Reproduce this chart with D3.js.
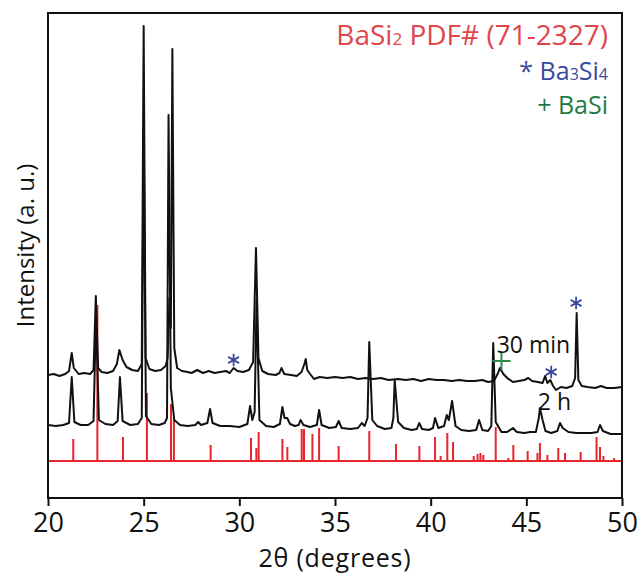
<!DOCTYPE html>
<html>
<head>
<meta charset="utf-8">
<script src="https://cdn.jsdelivr.net/npm/d3@7"></script>
<style>
body { margin: 0; background: #fff; }
text { font-family: "Open Sans", "Noto Sans", sans-serif; }
</style>
</head>
<body>
<div id="chart"></div>
<script>
var svgWidth = 639;
var svgHeight = 578;

var margin = { top: 13, right: 17, bottom: 80, left: 48 };

var chartWidth = svgWidth - margin.left - margin.right;
var chartHeight = svgHeight - margin.top - margin.bottom;

// x ticks (2 theta, degrees)
var xTicks = [20, 25, 30, 35, 40, 45, 50];

// BaSi2 reference sticks: [2theta, height above reference base]
var refBase = 37;
var refSticks = [
    [21.32, 22], [22.58, 156], [23.92, 24], [25.17, 68], [26.43, 57], [26.58, 42],
    [28.50, 16], [29.34, 1], [30.61, 23], [30.89, 13], [31.01, 29],
    [32.25, 22], [32.51, 14], [33.26, 32], [33.38, 32], [33.82, 27], [34.17, 33],
    [35.19, 15], [36.79, 30], [38.19, 17], [39.41, 15], [40.23, 24], [40.52, 5],
    [40.87, 28], [41.17, 19], [42.25, 5], [42.45, 7], [42.6, 8], [42.75, 6],
    [43.40, 34], [44.06, 3], [44.32, 16], [45.07, 10], [45.58, 8], [45.71, 18],
    [46.10, 6], [46.67, 13], [47.02, 8], [47.84, 9], [48.67, 24], [48.85, 14],
    [49.03, 5], [49.59, 3]
];

// 30 min pattern [2theta, intensity a.u.]
var trace30min = [
    [20.0, 123], [20.3, 124], [20.6, 122], [20.9, 124], [21.1, 127], [21.24, 145], [21.35, 130],
    [21.6, 124], [21.9, 125], [22.2, 124], [22.38, 128], [22.5, 202], [22.62, 130],
    [22.8, 126], [23.1, 125], [23.4, 127], [23.6, 134], [23.73, 148], [23.9, 138],
    [24.1, 131], [24.4, 128], [24.7, 127], [24.9, 134], [25.0, 472], [25.1, 140],
    [25.3, 129], [25.6, 127], [25.9, 128], [26.15, 132], [26.25, 140], [26.35, 200],
    [26.42, 170], [26.5, 449], [26.6, 150], [26.75, 130], [27.0, 127], [27.3, 126],
    [27.5, 125], [27.8, 128], [28.1, 125], [28.4, 127], [28.7, 125], [29.0, 126],
    [29.3, 127], [29.5, 125], [29.7, 130], [29.9, 127], [30.2, 126], [30.5, 128],
    [30.72, 136], [30.87, 250], [31.0, 140], [31.2, 127], [31.5, 124], [31.9, 123],
    [32.1, 125], [32.2, 130], [32.35, 124], [32.7, 123], [33.0, 122], [33.25, 126],
    [33.4, 134], [33.47, 139], [33.55, 128], [33.7, 124], [33.9, 119], [34.2, 121],
    [34.6, 120], [35.0, 121], [35.4, 120], [35.8, 121], [36.2, 119], [36.6, 120],
    [37.0, 119], [37.4, 120], [37.8, 118], [38.3, 119], [38.7, 118], [39.1, 119],
    [39.5, 117], [39.9, 119], [40.3, 118], [40.7, 118], [41.1, 117], [41.5, 118],
    [41.9, 117], [42.3, 117], [42.7, 118], [43.0, 116], [43.3, 117], [43.5, 124],
    [43.62, 130], [43.8, 124], [44.0, 120], [44.3, 116], [44.6, 117], [44.9, 118],
    [45.1, 120], [45.3, 117], [45.6, 116], [45.85, 115], [45.98, 122], [46.1, 115],
    [46.25, 118], [46.4, 112], [46.55, 108], [46.8, 111], [47.1, 110], [47.4, 112],
    [47.55, 120], [47.63, 185], [47.72, 118], [47.9, 112], [48.2, 111], [48.6, 110],
    [48.9, 112], [49.2, 110], [49.6, 110], [50.0, 111]
];

// 2 h pattern [2theta, intensity a.u.]
var trace2h = [
    [20.0, 73], [20.4, 72], [20.8, 73], [21.1, 75], [21.24, 121], [21.38, 76],
    [21.7, 73], [22.1, 73], [22.38, 77], [22.51, 183], [22.66, 78], [23.0, 74],
    [23.4, 73], [23.64, 77], [23.76, 121], [23.9, 77], [24.3, 73], [24.7, 74],
    [24.9, 80], [25.0, 370], [25.12, 82], [25.4, 74], [25.8, 73], [26.1, 75],
    [26.22, 80], [26.3, 383], [26.42, 110], [26.6, 78], [26.9, 73], [27.3, 72],
    [27.7, 73], [27.85, 76], [28.0, 73], [28.33, 75], [28.47, 89], [28.6, 75],
    [29.0, 72], [29.5, 72], [30.0, 71], [30.42, 74], [30.56, 92], [30.68, 78],
    [30.8, 86], [30.9, 198], [31.05, 78], [31.4, 72], [31.8, 71], [32.12, 74],
    [32.25, 91], [32.36, 80], [32.5, 80], [32.65, 74], [32.9, 72], [33.1, 73],
    [33.2, 78], [33.35, 73], [33.7, 71], [34.05, 73], [34.17, 88], [34.3, 73],
    [34.7, 70], [35.05, 71], [35.19, 77], [35.35, 70], [35.8, 69], [36.2, 70],
    [36.4, 75], [36.55, 72], [36.7, 80], [36.79, 156], [36.95, 78], [37.2, 72],
    [37.6, 69], [37.95, 70], [38.05, 80], [38.12, 118], [38.3, 76], [38.6, 70],
    [39.0, 68], [39.28, 69], [39.4, 75], [39.55, 69], [39.9, 68], [40.12, 70],
    [40.23, 80], [40.4, 70], [40.7, 72], [40.84, 83], [40.95, 78], [41.12, 97],
    [41.3, 72], [41.6, 68], [42.0, 67], [42.38, 68], [42.53, 78], [42.7, 68],
    [43.0, 67], [43.17, 72], [43.27, 155], [43.4, 76], [43.7, 66], [44.0, 66],
    [44.3, 70], [44.5, 66], [44.9, 65], [45.2, 66], [45.5, 66], [45.65, 80],
    [45.71, 90], [45.85, 78], [46.0, 67], [46.3, 65], [46.62, 67], [46.76, 75],
    [46.9, 70], [47.2, 66], [47.6, 65], [48.0, 65], [48.4, 65], [48.72, 66],
    [48.85, 73], [49.0, 67], [49.4, 64], [50.0, 64]
];

// phase markers [2theta, intensity]
var starMarks = [[29.7, 138], [46.3, 126], [47.6, 195]];
var plusMarks = [[43.7, 137]];

var traceLabels = [
    { text: "30 min", x: 43.45, y: 145 },
    { text: "2 h", x: 45.6, y: 88 }
];

var svg = d3
    .select("#chart")
    .append("svg")
    .attr("width", svgWidth)
    .attr("height", svgHeight);

var chartGroup = svg.append("g")
    .attr("transform", `translate(${margin.left}, ${margin.top})`);

var xScale = d3.scaleLinear()
    .domain([20, 50])
    .range([0, chartWidth]);

var yScale = d3.scaleLinear()
    .domain([0, 485])
    .range([chartHeight, 0]);

// reference sticks
chartGroup.append("g")
    .selectAll("line")
    .data(refSticks)
    .enter()
    .append("line")
    .attr("x1", d => xScale(d[0]))
    .attr("x2", d => xScale(d[0]))
    .attr("y1", yScale(refBase))
    .attr("y2", d => yScale(refBase + d[1]))
    .attr("stroke", "#e8242c")
    .attr("stroke-width", 2);

chartGroup.append("line")
    .attr("x1", 0)
    .attr("x2", chartWidth)
    .attr("y1", yScale(refBase))
    .attr("y2", yScale(refBase))
    .attr("stroke", "#e8242c")
    .attr("stroke-width", 2);

var line = d3.line()
    .x(d => xScale(d[0]))
    .y(d => yScale(d[1]));

[trace2h, trace30min].forEach(trace => {
    chartGroup.append("path")
        .datum(trace)
        .attr("d", line)
        .attr("fill", "none")
        .attr("stroke", "#111")
        .attr("stroke-width", 2)
        .attr("stroke-linejoin", "round");
});

// markers
chartGroup.append("g")
    .selectAll("path")
    .data(starMarks)
    .enter()
    .append("path")
    .attr("d", d3.symbol(d3.symbolAsterisk, 110))
    .attr("transform", d => `translate(${xScale(d[0])}, ${yScale(d[1])})`)
    .attr("fill", "none")
    .attr("stroke", "#3b4aa0")
    .attr("stroke-width", 1.8);

chartGroup.append("g")
    .selectAll("path")
    .data(plusMarks)
    .enter()
    .append("path")
    .attr("d", d3.symbol(d3.symbolPlus, 110))
    .attr("transform", d => `translate(${xScale(d[0])}, ${yScale(d[1])})`)
    .attr("fill", "none")
    .attr("stroke", "#2a8a4a")
    .attr("stroke-width", 2);

chartGroup.append("g")
    .selectAll("text")
    .data(traceLabels)
    .enter()
    .append("text")
    .attr("x", d => xScale(d.x))
    .attr("y", d => yScale(d.y))
    .attr("font-size", 23)
    .attr("fill", "#111")
    .text(d => d.text);

// frame
chartGroup.append("rect")
    .attr("width", chartWidth)
    .attr("height", chartHeight)
    .attr("fill", "none")
    .attr("stroke", "#111")
    .attr("stroke-width", 2);

var bottomAxis = d3.axisBottom(xScale)
    .tickValues(xTicks)
    .tickSize(8)
    .tickPadding(7);

var xAxisGroup = chartGroup.append("g")
    .attr("transform", `translate(0, ${chartHeight})`)
    .call(bottomAxis);

xAxisGroup.select(".domain").remove();
xAxisGroup.selectAll("line").attr("stroke", "#111").attr("stroke-width", 2);
xAxisGroup.selectAll("text")
    .attr("font-size", 27)
    .attr("font-family", "\"Open Sans\", sans-serif")
    .attr("fill", "#111");

// axis titles
chartGroup.append("text")
    .attr("x", chartWidth / 2)
    .attr("y", chartHeight + 69)
    .attr("text-anchor", "middle")
    .attr("font-size", 25)
    .attr("letter-spacing", 0.8)
    .attr("fill", "#111")
    .text("2θ (degrees)");

chartGroup.append("text")
    .attr("transform", "rotate(-90)")
    .attr("x", -(chartHeight / 2) + 10)
    .attr("y", -margin.left + 34)
    .attr("text-anchor", "middle")
    .attr("font-size", 24)
    .attr("fill", "#111")
    .text("Intensity (a. u.)");

// legend
var legendX = chartWidth - 14;

var leg1 = chartGroup.append("text")
    .attr("x", legendX)
    .attr("y", 32)
    .attr("text-anchor", "end")
    .attr("font-size", 28)
    .attr("fill", "#e0454b");
leg1.append("tspan").text("BaSi");
leg1.append("tspan").attr("font-size", 17).text("2");
leg1.append("tspan").text(" PDF# (71-2327)");

var leg2 = chartGroup.append("text")
    .attr("x", legendX)
    .attr("y", 67)
    .attr("text-anchor", "end")
    .attr("font-size", 25)
    .attr("fill", "#3b4aa0");
leg2.append("tspan").text("* Ba");
leg2.append("tspan").attr("font-size", 16).text("3");
leg2.append("tspan").text("Si");
leg2.append("tspan").attr("font-size", 16).text("4");

chartGroup.append("text")
    .attr("x", legendX)
    .attr("y", 101)
    .attr("text-anchor", "end")
    .attr("font-size", 25)
    .attr("fill", "#1f7b45")
    .text("+ BaSi");
</script>
</body>
</html>
